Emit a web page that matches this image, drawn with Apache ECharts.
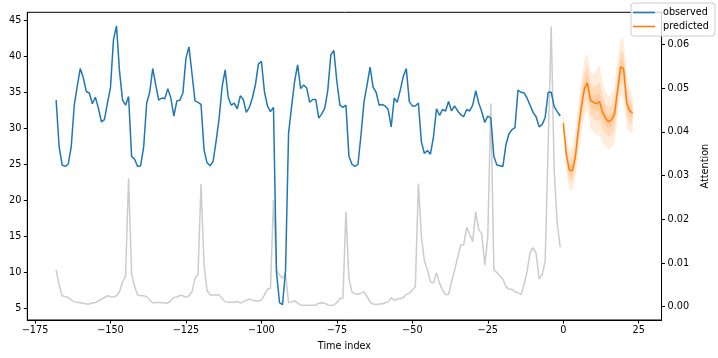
<!DOCTYPE html>
<html><head><meta charset="utf-8">
<script src="https://cdn.jsdelivr.net/npm/echarts@6/dist/echarts.min.js"></script>
<style>html,body{margin:0;padding:0;background:#fff}#c{width:718px;height:358px}</style>
</head><body><div id="c"></div>
<script>
const obsStart = -168;
const observed = [33.9,27.4,24.9,24.7,25.0,27.4,33.2,35.8,38.3,37.0,35.1,34.9,33.4,34.3,32.8,30.9,31.2,33.5,35.6,42.3,44.2,37.9,33.9,33.2,34.4,26.1,25.7,24.7,24.8,27.4,33.5,35.0,38.3,36.0,33.9,34.2,34.1,35.5,34.2,31.7,33.8,33.9,34.9,39.7,41.3,37.6,33.8,33.6,33.3,27.0,25.2,24.8,25.4,28.2,31.4,35.8,38.1,34.3,33.2,33.5,32.7,34.5,34.0,32.2,32.9,34.2,36.0,38.9,39.3,35.1,33.1,32.3,32.9,10.0,5.8,5.5,10.3,29.3,33.0,36.5,38.8,35.5,36.0,35.6,33.6,34.0,34.0,31.4,32.0,32.8,35.3,40.2,40.8,36.5,33.2,32.9,33.2,26.1,25.0,24.7,25.0,29.1,33.7,36.0,38.5,35.7,35.0,33.2,33.3,33.1,32.6,30.2,34.2,33.6,35.3,37.2,38.3,33.7,33.1,33.1,33.5,28.1,26.5,26.9,26.4,28.8,32.7,31.8,32.6,32.4,33.7,32.4,33.1,32.4,31.9,31.6,32.6,32.4,33.2,35.2,33.5,32.3,30.8,31.7,31.4,26.1,24.9,24.8,24.7,27.7,29.2,29.8,30.1,35.3,35.0,34.9,34.2,33.2,32.2,31.6,30.2,30.5,31.5,35.0,35.0,33.0,32.3,31.7];
const attention = [0.0084,0.0050,0.0025,0.0023,0.0021,0.0015,0.0011,0.0010,0.0009,0.0008,0.0006,0.0006,0.0009,0.0009,0.0014,0.0017,0.0021,0.0025,0.0023,0.0022,0.0025,0.0034,0.0057,0.0070,0.0294,0.0076,0.0046,0.0027,0.0025,0.0025,0.0023,0.0015,0.0009,0.0009,0.0010,0.0009,0.0009,0.0008,0.0014,0.0021,0.0022,0.0026,0.0025,0.0022,0.0025,0.0034,0.0065,0.0073,0.0281,0.0095,0.0037,0.0027,0.0027,0.0027,0.0027,0.0019,0.0011,0.0010,0.0010,0.0010,0.0012,0.0008,0.0011,0.0015,0.0017,0.0015,0.0013,0.0013,0.0015,0.0027,0.0040,0.0042,0.0244,0.0084,0.0073,0.0065,0.0076,0.0009,0.0011,0.0014,0.0008,0.0004,0.0003,0.0003,0.0003,0.0003,0.0003,0.0008,0.0009,0.0008,0.0004,0.0003,0.0004,0.0009,0.0019,0.0019,0.0217,0.0065,0.0034,0.0029,0.0029,0.0031,0.0034,0.0023,0.0011,0.0006,0.0005,0.0006,0.0006,0.0009,0.0011,0.0021,0.0014,0.0018,0.0018,0.0021,0.0028,0.0031,0.0038,0.0046,0.0282,0.0160,0.0105,0.0084,0.0057,0.0054,0.0078,0.0054,0.0038,0.0028,0.0028,0.0057,0.0084,0.0112,0.0141,0.0141,0.0182,0.0166,0.0149,0.0217,0.0177,0.0166,0.0095,0.0160,0.0465,0.0085,0.0078,0.0070,0.0063,0.0046,0.0040,0.0040,0.0034,0.0032,0.0028,0.0050,0.0080,0.0124,0.0135,0.0122,0.0063,0.0073,0.0103,0.0370,0.0642,0.0310,0.0190,0.0136];
const predicted = [30.7,26.4,24.2,24.1,26.0,29.8,33.0,35.5,36.3,33.9,33.6,33.4,33.7,32.2,31.4,30.9,31.2,32.0,35.3,38.5,38.3,33.5,32.4,32.1];
const q98 = [32.3,29.0,27.0,27.3,29.5,33.3,37.0,39.5,40.4,38.0,37.5,38.0,38.8,36.5,35.0,34.4,34.8,36.0,39.5,42.5,42.3,37.5,35.5,34.6];
const q90 = [31.6,27.8,25.7,25.9,27.9,31.7,35.2,37.7,38.6,36.2,35.7,35.9,36.5,34.6,33.4,32.8,33.2,34.2,37.6,40.7,40.5,35.7,34.1,33.5];
const q75 = [31.1,27.1,24.9,24.9,26.9,30.7,34.0,36.5,37.3,34.9,34.6,34.6,35.0,33.3,32.3,31.8,32.1,33.0,36.4,39.5,39.3,34.5,33.2,32.7];
const q25 = [30.3,25.8,23.5,23.4,25.3,29.0,32.1,34.6,35.4,32.9,32.6,32.3,32.5,31.2,30.4,29.9,30.2,31.0,34.3,37.5,37.3,32.6,31.7,31.4];
const q10 = [29.9,25.1,22.7,22.6,24.3,28.0,31.1,33.5,34.2,31.8,31.3,31.0,31.1,29.9,29.3,28.8,29.1,29.8,33.2,36.3,36.0,31.6,30.8,30.6];
const q02 = [29.2,24.0,21.5,21.3,23.0,26.5,29.5,31.8,32.5,30.0,29.5,29.0,29.0,28.0,27.5,27.0,27.3,28.0,31.5,34.5,34.2,30.0,29.5,29.3];
const xTicks = [-175,-150,-125,-100,-75,-50,-25,0,25];
const yTicks = [5,10,15,20,25,30,35,40,45];
const attTicks = [0,0.01,0.02,0.03,0.04,0.05,0.06];

const FONT = 'DejaVu Sans';
const chart = echarts.init(document.getElementById('c'), null, {renderer:'canvas'});
const obsData = observed.map((v,i)=>[obsStart+i, v]);
const attData = attention.map((v,i)=>[obsStart+i, v]);
const predData = predicted.map((v,i)=>[i, v]);

function bandSeries(lo, hi) {
  return {
    type:'custom', yAxisIndex:0, silent:true, z:1,
    data: lo.map((v,i)=>[i, v, hi[i]]),
    encode:{x:0, y:[1,2]},
    renderItem:function(params, api){
      if (params.dataIndex !== 0) return null;
      const pts=[];
      for (let i=0;i<hi.length;i++) pts.push(api.coord([i, hi[i]]));
      for (let i=lo.length-1;i>=0;i--) pts.push(api.coord([i, lo[i]]));
      return {type:'polygon', shape:{points:pts}, style:{fill:'rgba(255,127,14,0.15)'}};
    }
  };
}
const txt = {fontFamily:FONT, fontSize:9.7, color:'#000'};
chart.setOption({
  animation:false,
  backgroundColor:'#fff',
  grid:{left:27.3, right:55.7, top:12.3, bottom:38, show:true, borderColor:'#000', borderWidth:1, containLabel:false},
  legend:{
    orient:'vertical', left:631, top:3, padding:[4,6,4,2], itemGap:3,
    itemWidth:22, itemHeight:1.6, icon:'rect',
    borderColor:'#ccc', borderWidth:1, borderRadius:3, backgroundColor:'rgba(255,255,255,0.8)',
    textStyle:{fontFamily:FONT, fontSize:9.7, color:'#000', lineHeight:11, padding:[0,0,0,3]},
    data:[{name:'observed'},{name:'predicted'}]
  },
  xAxis:{
    type:'value', min:-177.55, max:32.55,
    axisLine:{show:true, onZero:false, lineStyle:{color:'#000', width:1}},
    axisTick:{show:true, length:3.5, customValues:xTicks, lineStyle:{color:'#000'}},
    axisLabel:{customValues:xTicks, margin:5, ...txt, formatter:v=>String(v).replace('-','\u2212')},
    splitLine:{show:false},
    name:'Time index', nameLocation:'middle', nameGap:21, nameTextStyle:{...txt}
  },
  yAxis:[{
    type:'value', position:'left', min:3.375, max:46.1,
    axisLine:{show:true, onZero:false, lineStyle:{color:'#000', width:1}},
    axisTick:{show:true, length:3.5, customValues:yTicks, lineStyle:{color:'#000'}},
    axisLabel:{customValues:yTicks, margin:6, ...txt},
    splitLine:{show:false}
  },{
    type:'value', position:'right', min:-0.00305, max:0.0674,
    axisLine:{show:true, onZero:false, lineStyle:{color:'#000', width:1}},
    axisTick:{show:true, length:3.5, customValues:attTicks, lineStyle:{color:'#000'}},
    axisLabel:{customValues:attTicks, margin:6, ...txt, formatter:v=>v.toFixed(2)},
    splitLine:{show:false},
    name:'Attention', nameLocation:'middle', nameGap:31, nameRotate:90, nameTextStyle:{...txt}
  }],
  series:[
    bandSeries(q02, q98),
    bandSeries(q10, q90),
    bandSeries(q25, q75),
    {type:'line', name:'attention', yAxisIndex:1, data:attData, symbol:'none', lineStyle:{color:'#cccccc', width:1.5}, itemStyle:{color:'#cccccc'}, z:2, silent:true},
    {type:'line', name:'observed', yAxisIndex:0, data:obsData, symbol:'none', lineStyle:{color:'#1f77b4', width:1.5}, itemStyle:{color:'#1f77b4'}, z:3},
    {type:'line', name:'predicted', yAxisIndex:0, data:predData, symbol:'none', lineStyle:{color:'#ff7f0e', width:1.5}, itemStyle:{color:'#ff7f0e'}, z:3}
  ]
});
</script></body></html>
